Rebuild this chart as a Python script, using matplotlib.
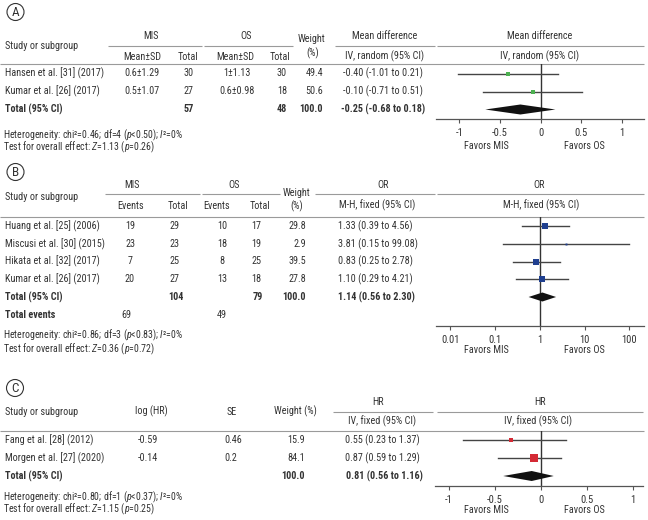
import matplotlib
matplotlib.use('Agg')
import matplotlib.pyplot as plt
from matplotlib import font_manager
from matplotlib.patches import Circle
from matplotlib.ticker import NullLocator

W, H = 648, 520

installed = {f.name for f in font_manager.fontManager.ttflist}
FONT = next((f for f in ['Liberation Sans Narrow', 'Roboto Condensed', 'DejaVu Sans']
             if f in installed), 'DejaVu Sans')

plt.rcParams.update({
    'font.family': [FONT, 'DejaVu Sans'],
    'font.size': 7.3,
    'mathtext.fontset': 'custom',
    'mathtext.rm': FONT,
    'mathtext.it': FONT + ':italic',
    'mathtext.bf': FONT + ':bold',
    'axes.unicode_minus': False,
})

TXT = '#333333'
RULE = '#9a9a9a'
AXC = '#555555'
CI = '#444444'
FS = 7.3

# ---- panel A: mean difference, IV random ----
a_studies = ['Hansen et al. [31] (2017)', 'Kumar et al. [26] (2017)']
a_mis_msd = ['0.6±1.29', '0.5±1.07']
a_mis_n = [30, 27]
a_os_msd = ['1±1.13', '0.6±0.98']
a_os_n = [30, 18]
a_weight = [49.4, 50.6]
a_md = [-0.40, -0.10]
a_lo = [-1.01, -0.71]
a_hi = [0.21, 0.51]
a_tot_n = [57, 48]
a_tot = [-0.25, -0.68, 0.18]

# ---- panel B: odds ratio, M-H fixed ----
b_studies = ['Huang et al. [25] (2006)', 'Miscusi et al. [30] (2015)',
             'Hikata et al. [32] (2017)', 'Kumar et al. [26] (2017)']
b_mis_ev = [19, 23, 7, 20]
b_mis_n = [29, 23, 25, 27]
b_os_ev = [10, 18, 8, 13]
b_os_n = [17, 19, 25, 18]
b_weight = [29.8, 2.9, 39.5, 27.8]
b_or = [1.33, 3.81, 0.83, 1.10]
b_lo = [0.39, 0.15, 0.25, 0.29]
b_hi = [4.56, 99.08, 2.78, 4.21]
b_tot_n = [104, 79]
b_tot_ev = [69, 49]
b_tot = [1.14, 0.56, 2.30]

# ---- panel C: hazard ratio, IV fixed ----
c_studies = ['Fang et al. [28] (2012)', 'Morgen et al. [27] (2020)']
c_loghr = ['-0.59', '-0.14']
c_se = ['0.46', '0.2']
c_weight = [15.9, 84.1]
c_hr = [0.55, 0.87]
c_lo = [0.23, 0.59]
c_hi = [1.37, 1.29]
c_tot = [0.81, 0.56, 1.16]
# marks as drawn on the -1..1 axis of the figure
c_plot_est = [-0.33, -0.07]
c_plot_lo = [-0.85, -0.47]
c_plot_hi = [0.27, 0.22]
c_plot_tot = [-0.10, -0.41, 0.14]

fig = plt.figure(figsize=(W / 100, H / 100), dpi=100)
ax = fig.add_axes([0, 0, 1, 1])
ax.set_xlim(0, W)
ax.set_ylim(H, 0)
ax.axis('off')


def t(x, y, s, ha='center', bold=False, size=FS, color=TXT, **kw):
    ax.text(x, y, s, ha=ha, va='center', fontsize=size, color=color,
            fontweight='bold' if bold else 'normal', **kw)


def hline(x0, x1, y, color=RULE, lw=0.8):
    ax.plot([x0, x1], [y, y], color=color, lw=lw, solid_capstyle='butt')


def badge(x, y, letter):
    ax.add_patch(Circle((x, y), 8.5, fill=False, ec='#333333', lw=0.8))
    t(x, y + 0.3, letter, size=9.5)


def forest_axes(x0, x1, y0, y1):
    fa = fig.add_axes([x0 / W, 1 - y1 / H, (x1 - x0) / W, (y1 - y0) / H])
    fa.set_ylim(y1, y0)
    for s in ('top', 'right', 'left'):
        fa.spines[s].set_visible(False)
    fa.spines['bottom'].set_color(AXC)
    fa.spines['bottom'].set_linewidth(0.9)
    fa.tick_params(axis='x', direction='out', length=3, width=0.8, color=AXC,
                   labelsize=7.6, labelcolor=TXT, pad=3.5)
    fa.set_yticks([])
    fa.patch.set_alpha(0)
    return fa


def study(fa, est, lo, hi, y, side_px, color):
    fa.plot([lo, hi], [y, y], color=CI, lw=1.0, zorder=2)
    fa.plot(est, y, marker='s', ms=side_px * 0.72, color=color, mec=color,
            mew=0, zorder=3)


def diamond(fa, est, lo, hi, y, half):
    fa.fill([lo, est, hi, est], [y, y - half, y, y + half], color='#111111',
            lw=0, zorder=3)


def footer(y1, y2, het, z):
    # both lines in one text block so they share a single layout
    t(3, (y1 + y2) / 2, het + '\n' + z, ha='left', size=7.1,
      linespacing=(y2 - y1) / 17.0)


# ================= Panel A =================
badge(15.5, 12, 'A')
t(5, 46, 'Study or subgroup', ha='left')
t(151, 36, 'MIS'); t(246, 36, 'OS')
t(312, 39, 'Weight'); t(313, 53, '(%)')
t(142, 57, 'Mean±SD'); t(188, 57, 'Total')
t(235, 57, 'Mean±SD'); t(280, 57, 'Total')
t(385, 36, 'Mean difference'); t(385, 56, 'IV, random (95% CI)')
t(540, 36, 'Mean difference'); t(540, 56, 'IV, random (95% CI)')
hline(108, 202, 46); hline(204, 293, 46)
hline(335, 435, 46); hline(437, 644, 46)
hline(0, 644, 64)

a_y0, a_dy = 73.5, 18
for i, name in enumerate(a_studies):
    y = a_y0 + i * a_dy
    t(5, y, name, ha='left')
    t(142, y, a_mis_msd[i]); t(189, y, str(a_mis_n[i]))
    t(237, y, a_os_msd[i]); t(282, y, str(a_os_n[i]))
    t(323, y, f'{a_weight[i]:.1f}', ha='right')
    t(383, y, f'{a_md[i]:.2f} ({a_lo[i]:.2f} to {a_hi[i]:.2f})')
y = a_y0 + len(a_studies) * a_dy
t(5, y, 'Total (95% CI)', ha='left', bold=True)
t(189, y, str(a_tot_n[0]), bold=True); t(282, y, str(a_tot_n[1]), bold=True)
t(323, y, '100.0', ha='right', bold=True)
t(383, y, f'{a_tot[0]:.2f} ({a_tot[1]:.2f} to {a_tot[2]:.2f})', bold=True)
footer(135, 147, 'Heterogeneity: chi²=0.46; df=4 ($p$<0.50); $I$²=0%',
       'Test for overall effect: $Z$=1.13 ($p$=0.26)')

fa = forest_axes(436, 644, 64, 119)
fa.set_xlim(-1.285, 1.267)
fa.set_xticks([-1, -0.5, 0, 0.5, 1])
fa.set_xticklabels(['-1', '-0.5', '0', '0.5', '1'])
fa.axvline(0, color='#333333', lw=1.0, zorder=1)
for i in range(len(a_studies)):
    study(fa, a_md[i], a_lo[i], a_hi[i], a_y0 + i * a_dy, 4.8, '#4cb050')
diamond(fa, a_tot[0], a_tot[1], a_tot[2], a_y0 + len(a_studies) * a_dy, 5)
t(486, 146, 'Favors MIS'); t(584, 146, 'Favors OS')

# ================= Panel B =================
badge(15.5, 172, 'B')
t(5, 196.5, 'Study or subgroup', ha='left')
t(132, 185, 'MIS'); t(234, 185, 'OS')
t(297, 193, 'Weight'); t(297, 206, '(%)')
t(131, 206, 'Events'); t(178, 206, 'Total')
t(217, 206, 'Events'); t(260, 206, 'Total')
t(383, 185, 'OR'); t(377, 205, 'M-H, fixed (95% CI)')
t(539, 185, 'OR'); t(541, 205, 'M-H, fixed (95% CI)')
hline(105, 200, 193.5); hline(202, 280, 193.5)
hline(315, 435, 193.5); hline(437, 644, 193.5)
hline(0, 644, 216.7)

b_y0, b_dy = 226, 17.75
for i, name in enumerate(b_studies):
    y = b_y0 + i * b_dy
    t(5, y, name, ha='left')
    t(130, y, str(b_mis_ev[i])); t(174, y, str(b_mis_n[i]))
    t(222, y, str(b_os_ev[i])); t(256, y, str(b_os_n[i]))
    t(306, y, f'{b_weight[i]:.1f}', ha='right')
    t(338, y, f'{b_or[i]:.2f} ({b_lo[i]:.2f} to {b_hi[i]:.2f})', ha='left')
y = b_y0 + len(b_studies) * b_dy
t(5, y, 'Total (95% CI)', ha='left', bold=True)
t(176, y, str(b_tot_n[0]), bold=True); t(258, y, str(b_tot_n[1]), bold=True)
t(306, y, '100.0', ha='right', bold=True)
t(338, y, f'{b_tot[0]:.2f} ({b_tot[1]:.2f} to {b_tot[2]:.2f})', ha='left', bold=True)
y += b_dy + 0.5
t(5, y, 'Total events', ha='left', bold=True)
t(126, y, str(b_tot_ev[0])); t(222, y, str(b_tot_ev[1]))
footer(334.3, 350, 'Heterogeneity: chi²=0.86; df=3 ($p$<0.83); $I$²=0%',
       'Test for overall effect: $Z$=0.36 ($p$=0.72)')

fb = forest_axes(436, 644, 216.7, 326)
fb.set_xscale('log')
fb.set_xlim(0.0048, 211)
fb.set_xticks([0.01, 0.1, 1, 10, 100])
fb.set_xticklabels(['0.01', '0.1', '1', '10', '100'])
fb.xaxis.set_minor_locator(NullLocator())
fb.axvline(1, color='#333333', lw=1.0, zorder=1)
for i in range(len(b_studies)):
    study(fb, b_or[i], b_lo[i], b_hi[i], b_y0 + i * b_dy,
          0.9 * b_weight[i] ** 0.5 + 0.4, '#1f3f8f')
diamond(fb, b_tot[0], b_tot[1], b_tot[2], b_y0 + len(b_studies) * b_dy, 4.5)
t(486, 350, 'Favors MIS'); t(584, 350, 'Favors OS')

# ================= Panel C =================
badge(15, 388, 'C')
t(5, 411.7, 'Study or subgroup', ha='left')
t(151, 411.7, 'log (HR)'); t(232, 411.7, 'SE'); t(295, 411.7, 'Weight (%)')
t(378, 402, 'HR'); t(382, 421, 'IV, fixed (95% CI)')
t(540, 402, 'HR'); t(538, 421, 'IV, fixed (95% CI)')
hline(333, 433, 411.7); hline(437, 643, 411.7)
hline(0, 644, 431)

c_y0, c_dy = 440, 18
for i, name in enumerate(c_studies):
    y = c_y0 + i * c_dy
    t(5, y, name, ha='left')
    t(138, y, c_loghr[i], ha='left')
    t(224, y, c_se[i], ha='left')
    t(305, y, f'{c_weight[i]:.1f}', ha='right')
    t(382, y, f'{c_hr[i]:.2f} ({c_lo[i]:.2f} to {c_hi[i]:.2f})')
y = c_y0 + len(c_studies) * c_dy
t(5, y, 'Total (95% CI)', ha='left', bold=True)
t(305, y, '100.0', ha='right', bold=True)
t(384, y, f'{c_tot[0]:.2f} ({c_tot[1]:.2f} to {c_tot[2]:.2f})', bold=True)
footer(498, 509.5, 'Heterogeneity: chi²=0.80; df=1 ($p$<0.37); $I$²=0%',
       'Test for overall effect: $Z$=1.15 ($p$=0.25)')

fc = forest_axes(435, 643, 431, 485.7)
fc.set_xlim(-1.153, 1.112)
fc.set_xticks([-1, -0.5, 0, 0.5, 1])
fc.set_xticklabels(['-1', '-0.5', '0', '0.5', '1'])
fc.axvline(0, color='#333333', lw=1.0, zorder=1)
for i in range(len(c_studies)):
    study(fc, c_plot_est[i], c_plot_lo[i], c_plot_hi[i], c_y0 + i * c_dy,
          0.9 * c_weight[i] ** 0.5, '#d42a35')
diamond(fc, c_plot_tot[0], c_plot_tot[1], c_plot_tot[2],
        c_y0 + len(c_studies) * c_dy, 5)
t(486, 510, 'Favors MIS'); t(584, 510, 'Favors OS')

fig.savefig('out.png', dpi=100)
